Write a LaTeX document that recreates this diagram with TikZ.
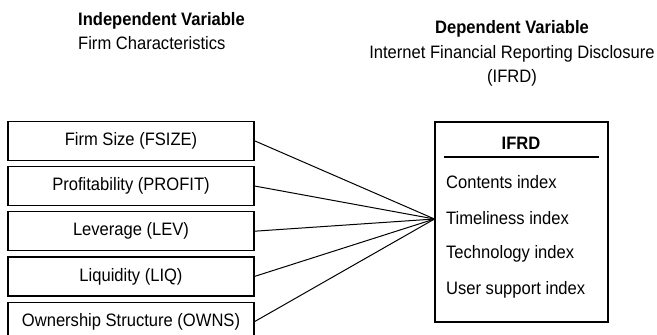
\documentclass[tikz,border=0pt]{standalone}
\usepackage{fontspec}
\setmainfont[FakeStretch=0.92]{Liberation Sans}
\usetikzlibrary{positioning}
\begin{document}
\begin{tikzpicture}[x=1pt,y=-1pt,
  every node/.append style={inner sep=0pt,font=\fontsize{18}{24.5}\selectfont},
  varbox/.style={draw,line width=1.2pt,minimum width=246pt,minimum height=39pt},
  link/.style={line width=1pt}]
\useasboundingbox (0,0) rectangle (657,335);
% headings
\node[anchor=west,align=left] (indep) at (78,31) {\textbf{Independent Variable}\\Firm Characteristics};
\node[align=center] (dep) at (512,53.5) {\textbf{Dependent Variable}\\Internet Financial Reporting Disclosure\\(IFRD)};
% firm characteristics
\node[varbox] (fsize) at (131,140.8) {Firm Size (FSIZE)};
\node[varbox,below=5pt of fsize] (profit) {Profitability (PROFIT)};
\node[varbox,below=5pt of profit] (lev) {Leverage (LEV)};
\node[varbox,below=5pt of lev] (liq) {Liquidity (LIQ)};
\node[varbox,below=5pt of liq] (owns) {Ownership Structure (OWNS)};
% disclosure box
\node[draw,line width=1.2pt,minimum width=173pt,minimum height=200pt] (ifrd) at (521.5,222) {};
\node (title) at (521,143) {\textbf{IFRD}};
\draw[line width=1.2pt] (444,157) -- (599,157);
\node[anchor=west] (contents) at (446,182) {Contents index};
\node[anchor=west] (timely) at (446,218) {Timeliness index};
\node[anchor=west] (techno) at (446,253.5) {Technology index};
\node[anchor=west] (support) at (446,289.5) {User support index};
% links
\coordinate (hub) at (434.5,219);
\foreach \v in {fsize,profit,lev,liq,owns}
  \draw[link] (\v.east) -- (hub);
\end{tikzpicture}
\end{document}
